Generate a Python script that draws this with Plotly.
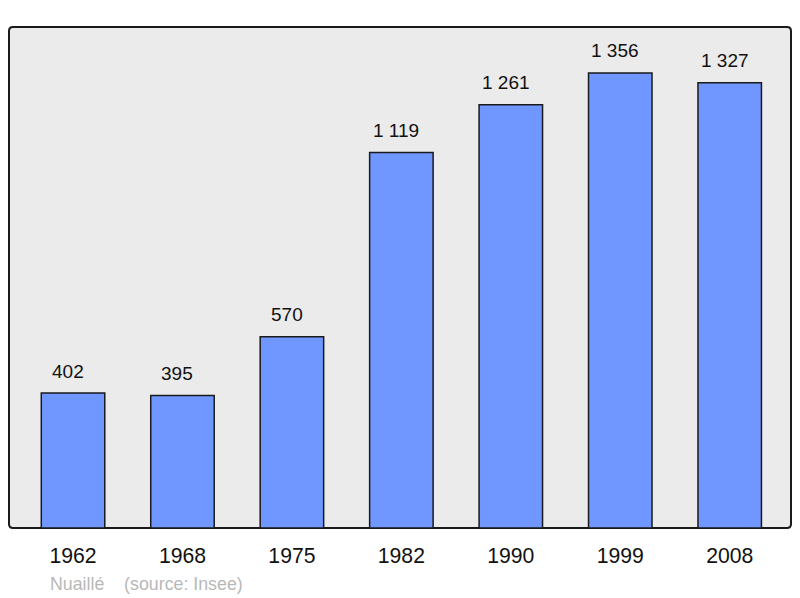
import plotly.graph_objects as go

years = ["1962", "1968", "1975", "1982", "1990", "1999", "2008"]
population = [402, 395, 570, 1119, 1261, 1356, 1327]
value_labels = ["402", "395", "570", "1 119", "1 261", "1 356", "1 327"]
footer_text = "Nuaillé    (source: Insee)"

FONT = "Liberation Sans, Arial, sans-serif"

fig = go.Figure()
fig.add_trace(go.Bar(
    x=list(range(len(years))), y=population,
    width=0.58,
    marker=dict(color="#7097ff", line=dict(color="#1a1a1a", width=1.5)),
    hoverinfo="skip",
))

for i, (v, lab) in enumerate(zip(population, value_labels)):
    fig.add_annotation(x=i, y=v, xref="x", yref="y", text=lab, showarrow=False,
                       yanchor="middle", yshift=22, xshift=-5,
                       font=dict(family=FONT, size=19, color="#111"))

fig.add_annotation(xref="paper", yref="paper", x=0.0505, y=-0.112, text=footer_text,
                   showarrow=False, xanchor="left", yanchor="middle",
                   font=dict(family=FONT, size=17.8, color="#b8b8b8"))

# plot frame with slightly rounded corners (paper coords)
rx, ry = 4 / 782, 4 / 501
path = (f"M {rx},0 L {1-rx},0 Q 1,0 1,{ry} L 1,{1-ry} Q 1,1 {1-rx},1 "
        f"L {rx},1 Q 0,1 0,{1-ry} L 0,{ry} Q 0,0 {rx},0 Z")
fig.add_shape(type="path", xref="paper", yref="paper", path=path,
              fillcolor="#ebebeb", line=dict(color="#1a1a1a", width=2), layer="below")

fig.update_layout(
    width=800, height=598,
    margin=dict(l=9, r=9, t=27, b=70),
    paper_bgcolor="white", plot_bgcolor="rgba(0,0,0,0)",
    showlegend=False,
    xaxis=dict(range=[-0.585, 6.56], showgrid=False, zeroline=False,
               showline=False, ticks="outside", ticklen=9, tickcolor="rgba(0,0,0,0)",
               tickmode="array", tickvals=list(range(len(years))), ticktext=years,
               tickfont=dict(family=FONT, size=21.2, color="#111")),
    yaxis=dict(range=[0, 1493], showgrid=False, zeroline=False, showline=False,
               showticklabels=False, ticks=""),
)

fig.write_html("out.html", config={"displayModeBar": False},
               post_script="document.body.style.margin='0';")
